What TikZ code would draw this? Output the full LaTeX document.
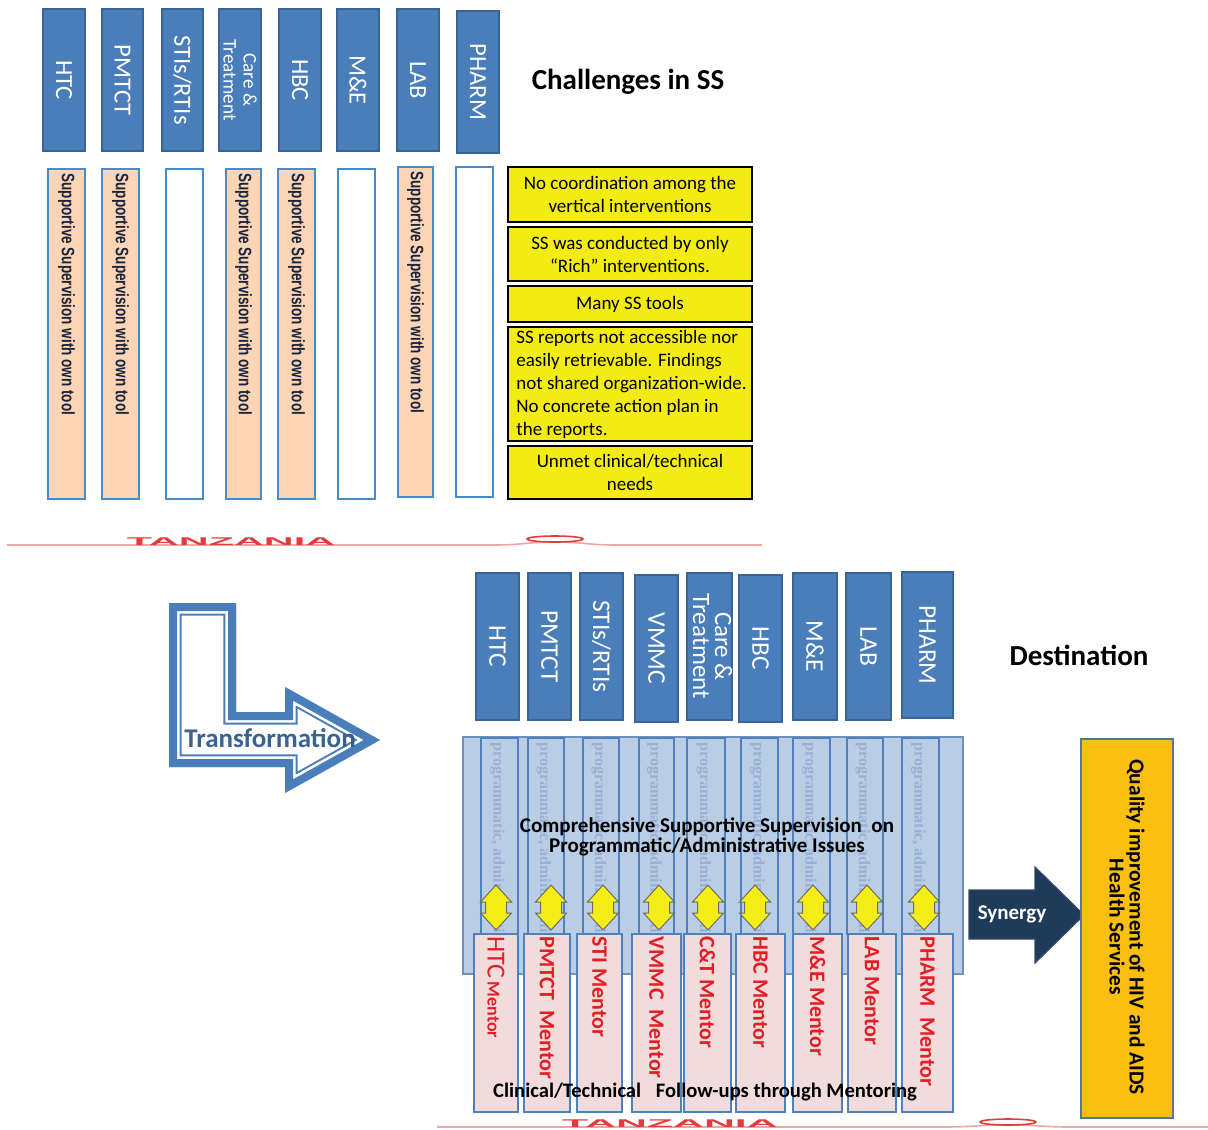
\documentclass[tikz,border=0pt]{standalone}
\usepackage{fontspec}
\setmainfont{Carlito}
\newfontfamily\lsans{Liberation Sans}
\newfontfamily\lserif{Liberation Serif}
\usetikzlibrary{fit}
\definecolor{hblue}{RGB}{74,126,187}
\definecolor{hborder}{RGB}{58,100,150}
\definecolor{peach}{RGB}{251,213,181}
\definecolor{barline}{RGB}{70,140,205}
\definecolor{ybox}{RGB}{242,236,18}
\definecolor{ltblue}{RGB}{185,205,229}
\definecolor{ltborder}{RGB}{110,145,190}
\definecolor{colline}{RGB}{79,129,189}
\definecolor{fadetext}{RGB}{152,176,212}
\definecolor{pinkbox}{RGB}{242,220,219}
\definecolor{mred}{RGB}{226,30,38}
\definecolor{navy}{RGB}{31,59,90}
\definecolor{gold}{RGB}{251,191,18}
\definecolor{tzred}{RGB}{228,60,60}
\definecolor{tzline}{RGB}{240,165,165}
\definecolor{transblue}{RGB}{50,90,140}
\definecolor{arrowblue}{RGB}{74,126,187}
\definecolor{dblarrow}{RGB}{245,238,20}
\definecolor{bartext}{RGB}{25,35,60}
\newcommand\fsz[2]{\fontsize{#1pt}{#2pt}\selectfont}
\newcommand\tpath{(169,603) -- (236,603) -- (236,712) -- (285,712) -- (285,687) -- (380,740) -- (285,793) -- (285,767) -- (169,767) -- cycle}
\begin{document}
\begin{tikzpicture}[x=0.5pt,y=-0.5pt,
  hdr/.style={fill=hblue, draw=hborder, line width=0.6pt, inner sep=0pt},
  hlabT/.style={rotate=-90, text=white, font=\fsz{12.3}{13}, inner sep=0pt, align=center},
  hlabB/.style={rotate=-90, text=white, font=\fsz{12.7}{13}, inner sep=0pt, align=center},
  pbar/.style={fill=peach, draw=barline, line width=0.9pt, inner sep=0pt},
  wbar/.style={fill=white, draw=barline, line width=0.9pt, inner sep=0pt},
  bartxt/.style={rotate=-90, anchor=west, text=bartext, font=\lsans\bfseries\fsz{9}{10}, inner sep=0pt},
  ybx/.style={fill=ybox, draw=black, line width=0.7pt, inner sep=0pt},
  ytxt/.style={font=\fsz{9.5}{11.5}, align=center, inner sep=0pt},
  title/.style={font=\bfseries\fsz{14.5}{16}, inner sep=0pt},
  colbox/.style={draw=colline, line width=0.55pt, inner sep=0pt},
  fade/.style={rotate=-90, anchor=west, text=fadetext, font=\lserif\bfseries\fsz{8}{9}, inner sep=0pt},
  mbox/.style={fill=pinkbox, draw=colline, line width=0.8pt, inner sep=0pt},
  mtxt/.style={rotate=-90, anchor=west, text=mred, font=\bfseries\fsz{11}{12}, inner sep=0pt},
  tz/.style={text=tzred, font=\lsans\bfseries\fsz{10}{10}, inner sep=0pt}]
\useasboundingbox (0,0) rectangle (1208,1129);

% ---------- top header boxes ----------
\foreach \a/\b/\c/\d/\lbl [count=\i] in {
  43/9/85/151/HTC, 102/9/143/151/PMTCT, 162/9/203/151/{STIs/RTIs},
  219/9/261/151/{}, 279/9/321/151/HBC, 337/9/379/151/{M\&E},
  397/9/439/151/LAB, 457/11/499/153/PHARM}{
  \node[hdr, fit={(\a,\b)(\c,\d)}] (t\i) {};
  \node[hlabT] (tl\i) at (t\i.center) {\lbl};
}
\node[hlabT, font=\fsz{9.6}{10}] (tl4b) at (t4.center) {Care \&\\Treatment};

% ---------- top bars ----------
\foreach \a/\b/\c/\d/\s [count=\i] in {
  48/169/85/499/pbar, 102/169/139/499/pbar, 166/169/203/499/wbar,
  226/169/261/499/pbar, 278/169/315/499/pbar, 338/169/375/499/wbar,
  398/167/433/497/pbar, 456/167/493/497/wbar}{
  \node[\s, fit={(\a,\b)(\c,\d)}] (b\i) {};
}
\foreach \i in {1,2,4,5,7}{
  \node[bartxt] (bt\i) at ([yshift=-2.5pt]b\i.north) {\scalebox{0.75}[1]{Supportive Supervision with own tool}};
}

% ---------- yellow boxes ----------
\node[ybx, fit={(508,167)(752,222)}] (y1) {};
\node[ytxt] (y1t) at (y1.center) {No coordination among the\\vertical interventions};
\node[ybx, fit={(508,227)(752,281)}] (y2) {};
\node[ytxt] (y2t) at (y2.center) {SS was conducted by only\\“Rich” interventions.};
\node[ybx, fit={(508,286)(752,322)}] (y3) {};
\node[ytxt] (y3t) at (y3.center) {Many SS tools};
\node[ybx, fit={(508,327)(752,441)}] (y4) {};
\node[ytxt, align=left, anchor=west] (y4t) at (516,384) {SS reports not accessible nor\\easily retrievable. Findings\\not shared organization-wide.\\No concrete action plan in\\the reports.};
\node[ybx, fit={(508,446)(752,499)}] (y5) {};
\node[ytxt] (y5t) at (y5.center) {Unmet clinical/technical\\needs};

\node[title] (ch) at (628,82) {Challenges in SS};

% ---------- Tanzania line 1 ----------
\draw[tzline, line width=0.8pt] (7,545) -- (495,545) .. controls (520,545) and (530,542) .. (555,542) .. controls (580,542) and (590,545) .. (615,545) -- (762,545);
\draw[tzred, line width=0.8pt] (555,539) ellipse [x radius=28, y radius=3];
\node[tz] (tz1) at (231,542) {\scalebox{2.07}[0.56]{TANZANIA}};

% ---------- transformation arrow ----------
\fill[white] \tpath;
\begin{scope}
  \clip \tpath;
  \draw[arrowblue, line width=12.7pt, line join=miter] \tpath;
  \draw[white, line width=10.7pt, line join=miter] \tpath;
  \draw[arrowblue, line width=8pt, line join=miter] \tpath;
\end{scope}
\node[text=transblue, font=\bfseries\fsz{13.5}{14}, inner sep=0pt, opacity=0.95] (tr) at (270,738) {Transformation};

% ---------- bottom header boxes ----------
\foreach \a/\b/\c/\d/\lbl [count=\i] in {
  476/573/519/720/HTC, 528/573/571/720/PMTCT, 580/573/623/720/{STIs/RTIs},
  635/575/678/722/VMMC, 687/573/732/720/{}, 739/575/782/722/HBC,
  793/573/837/720/{M\&E}, 846/573/891/720/LAB, 902/572/953/718/PHARM}{
  \node[hdr, fit={(\a,\b)(\c,\d)}] (h\i) {};
  \node[hlabB] (hl\i) at (h\i.center) {\lbl};
}
\node[hlabB, font=\fsz{12.5}{11}] (hl5b) at ([xshift=1.5pt]h5.center) {Care \&\\Treatment};

\node[title] (dest) at (1079,655) {Destination};

% ---------- comprehensive SS block ----------
\node[fill=ltblue, draw=ltborder, line width=0.7pt, inner sep=0pt, fit={(463,737)(963,974)}] (bg) {};
\foreach \a/\b [count=\i] in {481/518, 528/564, 583/619, 639/674, 687/725, 741/778, 793/830, 847/883, 902/939}{
  \begin{scope}
    \clip (\a,738) rectangle (\b,934);
    \node[fade] (f\i) at ({(\a+\b)/2-2},742) {programmatic, administrative issues};
  \end{scope}
  \node[colbox, fit={(\a,738)(\b,934)}] (c\i) {};
}
\node[font=\bfseries\fsz{10.5}{10}, align=center, inner sep=0pt] (cs) at (707,837) {Comprehensive Supportive Supervision \ on\\Programmatic/Administrative Issues};

% ---------- yellow double arrows ----------
\foreach \x in {496, 551, 603, 659, 708, 755, 813, 867, 924}{
  \begin{scope}[shift={(\x,907.5)}]
    \draw[fill=dblarrow, draw=gray!85!black, line width=0.5pt, line join=miter]
      (0,-22.5) -- (15.5,-5.5) -- (10.5,-5.5) -- (10.5,5.5) -- (15.5,5.5) -- (0,22.5)
      -- (-15.5,5.5) -- (-10.5,5.5) -- (-10.5,-5.5) -- (-15.5,-5.5) -- cycle;
  \end{scope}
}

% ---------- mentor boxes ----------
\foreach \a/\b/\lbl [count=\i] in {
  474/518/{}, 524/570/{PMTCT \ Mentor}, 577/622/{STI Mentor}, 632/681/{VMMC \ Mentor},
  684/731/{C\&T Mentor}, 736/785/{HBC Mentor}, 793/842/{M\&E Mentor},
  848/896/{LAB Mentor}, 902/953/{PHARM \ Mentor}}{
  \node[mbox, fit={(\a,934)(\b,1112)}] (m\i) {};
  \node[mtxt] (mt\i) at ([yshift=-1.5pt]m\i.north) {\lbl};
}
\node[mtxt] (mt1b) at ([yshift=-1.5pt]m1.north) {{\mdseries\fsz{13}{13}HTC}{\fsz{9}{9}\,Mentor}};

\node[font=\bfseries\fsz{10.3}{11}, inner sep=0pt] (cl) at (705,1092) {Clinical/Technical\hspace{5pt} Follow-ups through Mentoring};

% ---------- synergy arrow ----------
\draw[fill=navy, draw=navy!80!gray, line width=0.6pt, line join=miter]
  (969,890) -- (1035,890) -- (1035,867) -- (1084,915) -- (1035,963) -- (1035,939) -- (969,939) -- cycle;
\node[text=white, font=\bfseries\fsz{10.5}{11}, inner sep=0pt] (syn) at (1012,914) {Synergy};

% ---------- quality box ----------
\node[fill=gold, draw=ltborder!80!black, line width=0.7pt, inner sep=0pt, fit={(1081,739)(1173,1118)}] (q) {};
\node[rotate=-90, font=\bfseries\fsz{10.7}{10}, align=center, inner sep=0pt] (qt) at (1127,927) {Quality improvement of HIV and AIDS\\Health Services};

% ---------- Tanzania line 2 ----------
\draw[tzline, line width=0.8pt] (437,1127) -- (945,1127) .. controls (970,1127) and (980,1125) .. (1008,1125) .. controls (1036,1125) and (1046,1127) .. (1070,1127) -- (1208,1127);
\draw[tzred, line width=0.8pt] (1008,1122) ellipse [x radius=28, y radius=3];
\node[tz] (tz2) at (670,1124) {\scalebox{2.14}[0.56]{TANZANIA}};
\end{tikzpicture}
\end{document}
